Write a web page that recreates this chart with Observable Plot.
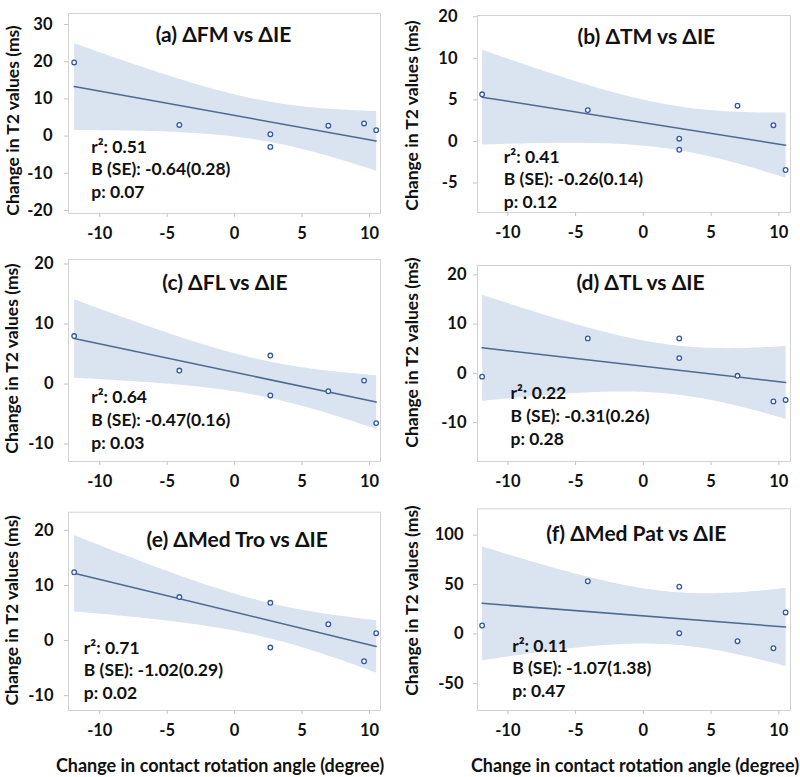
<!DOCTYPE html>
<html><head><meta charset="utf-8">
<script src="https://cdn.jsdelivr.net/npm/d3@7"></script>
<script src="https://cdn.jsdelivr.net/npm/@observablehq/plot@0.6"></script>
<style>
body{margin:0;background:#fff;}
#wrap{position:relative;width:800px;height:777px;font-family:Lato,"Open Sans",sans-serif;overflow:hidden;}
.panel{position:absolute;}
.xtitle{position:absolute;top:765px;transform:translate(-50%,-50%);font-weight:bold;font-size:18px;white-space:nowrap;color:#111;}
</style></head><body><div id="wrap"></div>
<script>
// ---- data ----
const xIE = [-11.9, -4.1, 2.65, 2.65, 6.95, 9.6, 10.5];
const yFM = [19.8, 3.0, 0.5, -2.9, 2.8, 3.4, 1.6];
const yTM = [5.67, 3.77, 0.33, -1.0, 4.3, 1.95, -3.44];
const yFL = [8.0, 2.25, 4.75, -1.9, -1.2, 0.58, -6.5];
const yTL = [-0.67, 7.1, 7.1, 3.1, -0.5, -5.7, -5.4];
const yMedTro = [12.4, 7.9, 6.85, -1.27, 2.96, -3.76, 1.33];
const yMedPat = [8.6, 53.4, 47.8, 0.8, -7.3, -14.4, 21.8];

const panelTitles = ["(a) ΔFM vs ΔIE", "(b) ΔTM vs ΔIE", "(c) ΔFL vs ΔIE", "(d) ΔTL vs ΔIE", "(e) ΔMed Tro vs ΔIE", "(f) ΔMed Pat vs ΔIE"];
const r2Values = ["0.51", "0.41", "0.64", "0.22", "0.71", "0.11"];
const bseValues = ["-0.64(0.28)", "-0.26(0.14)", "-0.47(0.16)", "-0.31(0.26)", "-1.02(0.29)", "-1.07(1.38)"];
const pValues = ["0.07", "0.12", "0.03", "0.28", "0.02", "0.47"];

const xTicks = [-10, -5, 0, 5, 10];
const yTicksA = [30, 20, 10, 0, -10, -20];
const yTicksB = [15, 10, 5, 0, -5];
const yTickLabelsB = ["20", "10", "5", "0", "-5"];
const yTicksC = [20, 10, 0, -10];
const yTicksD = [20, 10, 0, -10];
const yTicksE = [20, 10, 0, -10];
const yTicksF = [100, 50, 0, -50];

const yTitle = "Change in T2 values (ms)";
const xTitle = "Change in contact rotation angle (degree)";

// ---- layout ----
const ys = [yFM, yTM, yFL, yTL, yMedTro, yMedPat];
const yTickSets = [yTicksA, yTicksB, yTicksC, yTicksD, yTicksE, yTicksF];
const layout = [
  {left:0,   top:0,   h:245, mt:13,   mb:32, yd:[-20.8, 32.96], tp:12, tdx:-1,   tdy:22,   sdx:22.7, sdy:154.5, ydx:-55.5, ydy:7},
  {left:400, top:0,   h:245, mt:15,   mb:33, yd:[-8.55, 15.15], tp:16, tdx:12.3, tdy:21.7, sdx:26.3, sdy:162.5, ydx:-65,   ydy:1.5},
  {left:0,   top:245, h:250, mt:14,   mb:34, yd:[-12.9, 20.75], tp:11, tdx:0.5,  tdy:23.3, sdx:22.7, sdy:159.3, ydx:-56.5, ydy:-2},
  {left:400, top:245, h:250, mt:20,   mb:34, yd:[-17.9, 21.9],  tp:7,  tdx:6.5,  tdy:17.3, sdx:33,   sdy:149.3, ydx:-65,   ydy:-11},
  {left:0,   top:495, h:250, mt:16.7, mb:35, yd:[-12.7, 23.3],  tp:11, tdx:12.7, tdy:28.3, sdx:15.3, sdy:157,   ydx:-56,   ydy:-1},
  {left:400, top:495, h:250, mt:13.3, mb:35, yd:[-77.4, 126.7], tp:10, tdx:2.3,  tdy:25.7, sdx:34.7, sdy:158.2, ydx:-65,   ydy:-9}
];

const wrap = document.getElementById("wrap");

layout.forEach((L, i) => {
  const data = xIE.map((x, j) => ({x, y: ys[i][j]}));
  const right = L.left === 400;
  const fmt = i === 1 ? (d) => yTickLabelsB[yTicksB.indexOf(d)] : (d) => String(d);
  const stats = `r²: ${r2Values[i]}\nB (SE): ${bseValues[i]}\np: ${pValues[i]}`;
  const plot = Plot.plot({
    width: 400,
    height: L.h,
    marginLeft: right ? 77 : 68,
    marginRight: right ? 10 : 20,
    marginTop: L.mt,
    marginBottom: L.mb,
    x: {domain: right ? [-12.24, 10.86] : [-12.32, 10.82]},
    y: {domain: L.yd},
    style: {fontFamily: "Lato, 'Open Sans', sans-serif", fontWeight: "bold", fontSize: "16.5px", color: "#111", background: "transparent", overflow: "visible"},
    marks: [
      Plot.frame({stroke: "#d3d3d3"}),
      Plot.linearRegressionY(data, {x: "x", y: "y", fill: "#dae3f0", fillOpacity: 1, stroke: "#4d6b8d", strokeWidth: 1.5}),
      Plot.dot(data, {x: "x", y: "y", r: 2.3, stroke: "#3556a8", strokeWidth: 1.3, fill: "white"}),
      Plot.axisX(xTicks, {tickSize: 4, tickPadding: 10, stroke: "#c4c4c4", label: null, tickFormat: (d) => String(d), fontSize: 16.5, fontWeight: "bold"}),
      Plot.axisY(yTickSets[i], {tickSize: 4, tickPadding: L.tp, stroke: "#c4c4c4", label: null, tickFormat: fmt, fontSize: 16.5, fontWeight: "bold"}),
      Plot.text([panelTitles[i]], {frameAnchor: "top", lineAnchor: "middle", dx: L.tdx, dy: L.tdy, fontSize: 21, fontWeight: "bold"}),
      Plot.text([stats], {frameAnchor: "top-left", textAnchor: "start", lineAnchor: "middle", lineHeight: 1.29, dx: L.sdx, dy: L.sdy, fontSize: 17.5, fontWeight: "bold"}),
      Plot.text([yTitle], {frameAnchor: "left", rotate: -90, textAnchor: "middle", lineAnchor: "middle", dx: L.ydx, dy: L.ydy, fontSize: 17.5, fontWeight: "bold"})
    ]
  });
  const div = document.createElement("div");
  div.className = "panel";
  div.style.left = L.left + "px";
  div.style.top = L.top + "px";
  div.appendChild(plot);
  wrap.appendChild(div);
});

[220, 635].forEach((cx) => {
  const t = document.createElement("div");
  t.className = "xtitle";
  t.style.left = cx + "px";
  t.textContent = xTitle;
  wrap.appendChild(t);
});
</script>
</body></html>
